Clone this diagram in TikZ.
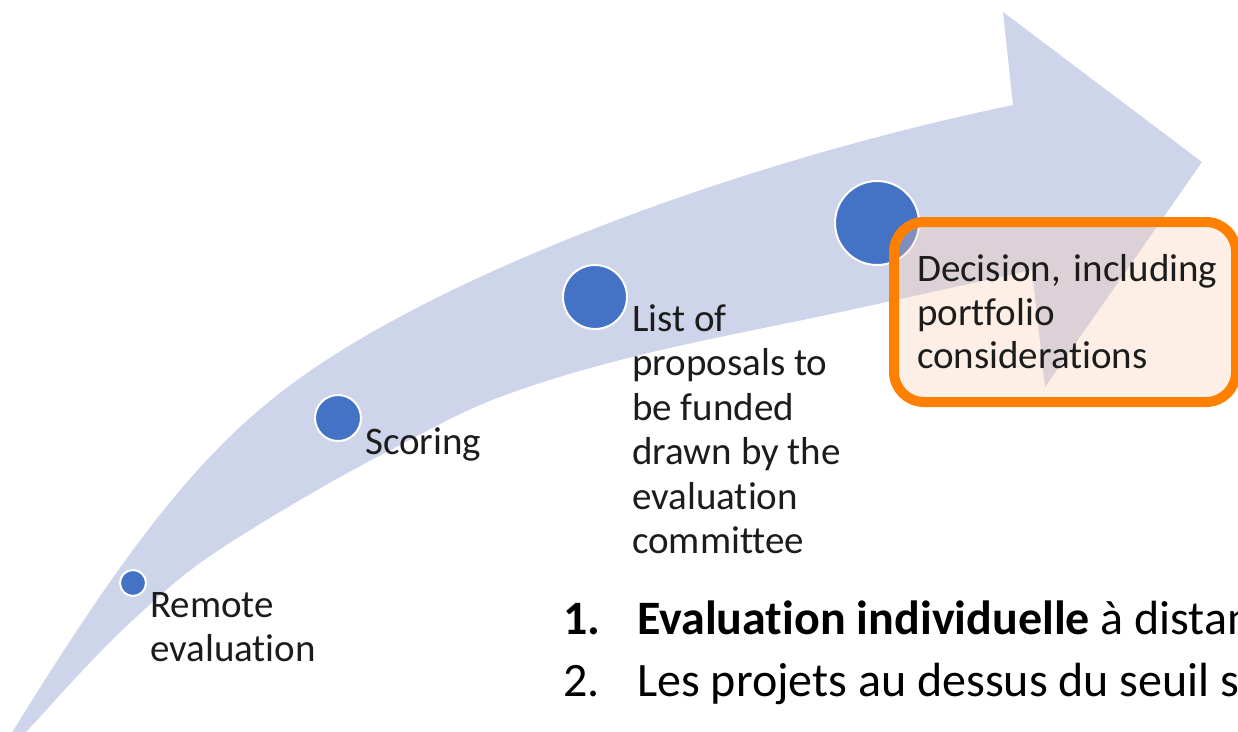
\documentclass[tikz,border=0pt]{standalone}
\usepackage{fontspec}
\setmainfont{Carlito}[Ligatures=NoCommon]
\definecolor{bandblue}{RGB}{206,212,234}
\definecolor{dotblue}{RGB}{68,114,196}
\definecolor{boxorange}{RGB}{255,128,0}
\definecolor{boxpeach}{RGB}{249,205,175}
\definecolor{inkgrey}{RGB}{28,28,28}
\tikzset{
  dot/.style={circle, fill=dotblue, draw=white, line width=2pt, inner sep=0pt},
  steptext/.style={anchor=north west, inner sep=0pt, align=left, text=inkgrey,
    font=\fontsize{39}{44.5}\selectfont},
  listtext/.style={anchor=base west, inner sep=0pt, text=black,
    font=\fontsize{48}{56}\selectfont},
}
\begin{document}
\begin{tikzpicture}[x=1pt,y=-1pt]
  \useasboundingbox (0,0) rectangle (1238,731);
  \clip (0,0) rectangle (1238,731);

  % the curved band and its head
  \fill[bandblue] (-12,772) .. controls (124,547) and (202,448) .. (300,378)
    .. controls (445,274) and (730,164) .. (1013,105)
    -- (1003,12) -- (1202,162) -- (1045,387) -- (1032,270)
    -- plot[smooth, tension=0.6] coordinates {(1032,270) (850,310) (640,355) (500,397) (400,445) (300,500) (200,563) (133,620) (83,670) (27,731) (-12,772)} -- cycle;

  \node[dot, minimum size=26pt] (remote) at (133,583) {};
  \node[dot, minimum size=46pt] (scoring) at (338,418) {};
  \node[dot, minimum size=64pt] (list) at (595,297) {};
  \node[dot, minimum size=84pt] (decision) at (877,223) {};

  \node[steptext] (remotetxt) at (150,592) {Remote\\evaluation};
  \node[steptext] (scoringtxt) at (365,427) {Scoring};
  \node[steptext] (listtxt) at (632,304) {List of\\proposals to\\be funded\\drawn by the\\evaluation\\committee};

  \node[draw=boxorange, line width=10pt, rounded corners=30pt, fill=boxpeach, fill opacity=0.33, text opacity=1,
        text width=296pt, minimum height=180pt, inner xsep=23pt, outer sep=0pt, anchor=north west, align=left,
        text=inkgrey, font=\fontsize{39}{43.5}\selectfont] (decisionbox) at (894,222)
        {\mbox{Decision, including}\\portfolio\\considerations};

  % numbered lines, cut by the right edge
  \node[listtext] (item1) at (563,634) {\textbf{1.}};
  \node[listtext] (item1txt) at (637,634) {\textbf{Evaluation individuelle} à distan};
  \node[listtext] (item2) at (563,696) {2.};
  \node[listtext] (item2txt) at (637,696) {Les projets au dessus du seuil s};
\end{tikzpicture}
\end{document}
